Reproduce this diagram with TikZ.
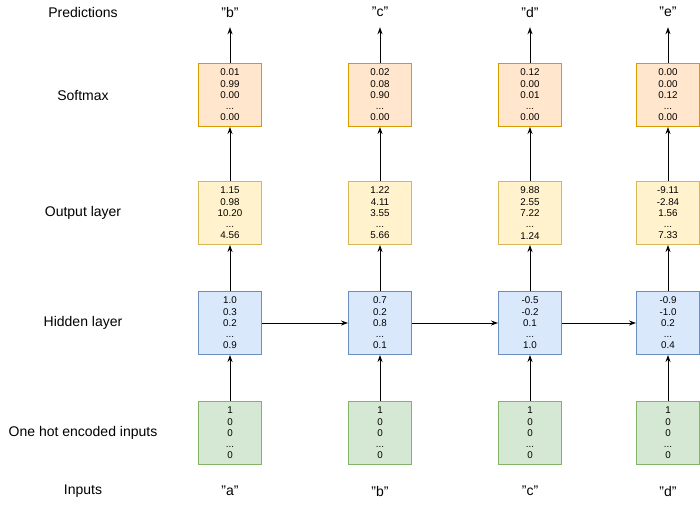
\documentclass[tikz,border=0pt]{standalone}
\usepackage{fontspec}
\setmainfont{Liberation Sans}
\usetikzlibrary{arrows.meta}
\definecolor{sfill}{HTML}{FFE6CC}\definecolor{sdraw}{HTML}{D79B00}
\definecolor{ofill}{HTML}{FFF2CC}\definecolor{odraw}{HTML}{D6B656}
\definecolor{hfill}{HTML}{DAE8FC}\definecolor{hdraw}{HTML}{6C8EBF}
\definecolor{ifill}{HTML}{D5E8D4}\definecolor{idraw}{HTML}{82B366}
\tikzset{
  vbox/.style={draw, line width=1pt, minimum width=63pt, minimum height=63pt, inner sep=0pt, align=center,
    font=\fontsize{9.8}{11.3}\selectfont},
  sbox/.style={vbox, fill=sfill, draw=sdraw},
  obox/.style={vbox, fill=ofill, draw=odraw},
  hbox/.style={vbox, fill=hfill, draw=hdraw},
  ibox/.style={vbox, fill=ifill, draw=idraw},
  lbl/.style={font=\fontsize{14}{16}\selectfont, inner sep=0pt},
  pred/.style={lbl, minimum height=30pt},
  conn/.style={-{Stealth[length=7pt,width=5pt]}, line width=0.9pt},
}
\begin{document}
\begin{tikzpicture}[x=1pt,y=-1pt]
\useasboundingbox (0,0) rectangle (700,504);
% row labels
\node[lbl] (lp) at (83,12) {Predictions};
\node[lbl] (ls) at (83,95) {Softmax};
\node[lbl] (lo) at (83,213) {Output layer};
\node[lbl] (lh) at (83,323) {Hidden layer};
\node[lbl] (li) at (83,433) {One hot encoded inputs};
\node[lbl] (lin) at (83,491) {Inputs};
% columns
\foreach \n/\x/\p/\q/\s/\o/\h/\i in {
  1/230/b/a/{0.01\\0.99\\0.00\\...\\0.00}/{1.15\\0.98\\10.20\\...\\4.56}/{1.0\\0.3\\0.2\\...\\0.9}/{1\\0\\0\\...\\0},
  2/380/c/b/{0.02\\0.08\\0.90\\...\\0.00}/{1.22\\4.11\\3.55\\...\\5.66}/{0.7\\0.2\\0.8\\...\\0.1}/{1\\0\\0\\...\\0},
  3/530/d/c/{0.12\\0.00\\0.01\\...\\0.00}/{9.88\\2.55\\7.22\\...\\1.24}/{-0.5\\-0.2\\0.1\\...\\1.0}/{1\\0\\0\\...\\0},
  4/668/e/d/{0.00\\0.00\\0.12\\...\\0.00}/{-9.11\\-2.84\\1.56\\...\\7.33}/{-0.9\\-1.0\\0.2\\...\\0.4}/{1\\0\\0\\...\\0}}{
  \node[pred] (p\n) at (\x,12) {"\p"};
  \node[sbox] (s\n) at (\x,95) {\s};
  \node[obox] (o\n) at (\x,213) {\o};
  \node[hbox] (h\n) at (\x,323) {\h};
  \node[ibox] (i\n) at (\x,433) {\i};
  \node[lbl] (x\n) at (\x,491) {"\q"};
  \draw[conn] (i\n) -- (h\n);
  \draw[conn] (h\n) -- (o\n);
  \draw[conn] (o\n) -- (s\n);
  \draw[conn] (s\n) -- (p\n);
}
\draw[conn] (h1) -- (h2);
\draw[conn] (h2) -- (h3);
\draw[conn] (h3) -- (h4);
\end{tikzpicture}
\end{document}
